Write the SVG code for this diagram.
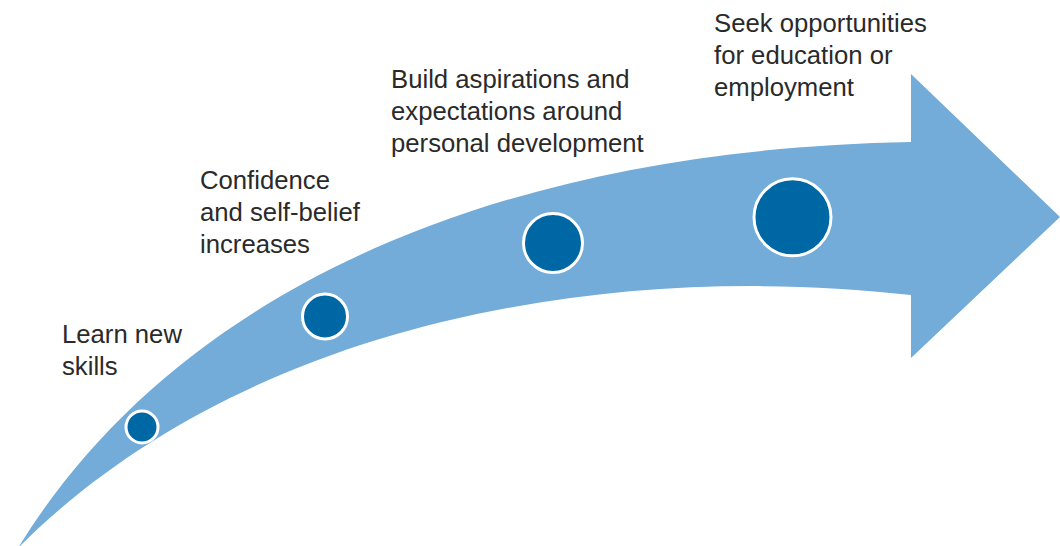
<svg xmlns="http://www.w3.org/2000/svg" width="1060" height="546" viewBox="0 0 1060 546">
  <style>
    .arrow { fill: #73acd8; }
    .dot { fill: #0067a5; stroke: #ffffff; stroke-width: 3; }
    .label { font-family: "Liberation Sans", Arial, sans-serif; font-size: 25.7px; fill: #2a2a2a; }
  </style>
  <rect width="1060" height="546" fill="#ffffff"/>
  <g id="arrow">
    <path class="arrow" d="M 18,548 C 170,300 480,150 911,142 L 911,74 L 1060,217 L 911,358 L 911,295 C 600,260 240,325 18,548 Z"/>
  </g>
  <g id="step1">
    <circle class="dot" cx="142" cy="427" r="16"/>
    <text class="label" x="62" y="343">Learn new</text>
    <text class="label" x="62" y="375">skills</text>
  </g>
  <g id="step2">
    <circle class="dot" cx="325" cy="316.5" r="22.5"/>
    <text class="label" x="200" y="189">Confidence</text>
    <text class="label" x="200" y="221">and self-belief</text>
    <text class="label" x="200" y="253">increases</text>
  </g>
  <g id="step3">
    <circle class="dot" cx="553" cy="243" r="29.5"/>
    <text class="label" x="391" y="88">Build aspirations and</text>
    <text class="label" x="391" y="120">expectations around</text>
    <text class="label" x="391" y="152">personal development</text>
  </g>
  <g id="step4">
    <circle class="dot" cx="792.5" cy="217.3" r="38.5"/>
    <text class="label" x="714" y="32">Seek opportunities</text>
    <text class="label" x="714" y="64">for education or</text>
    <text class="label" x="714" y="96">employment</text>
  </g>
</svg>
